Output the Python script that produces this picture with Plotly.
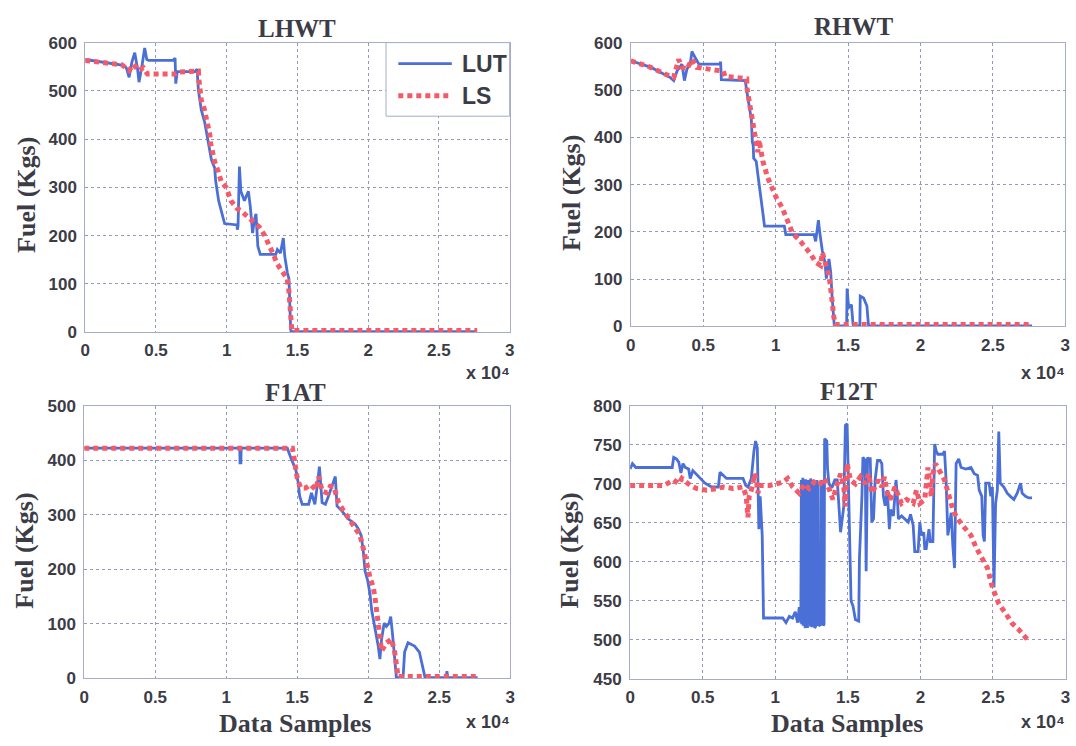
import plotly.graph_objects as go

W, H = 1076, 746

# ---------------- data: (sample index, fuel in kg) ----------------
lhwt_lut = [(0, 565), (1500, 558), (2700, 553), (2900, 548), (3100, 528), (3300, 560), (3500, 579),
            (3700, 545), (3800, 518), (4000, 550), (4200, 589), (4350, 565), (4500, 563), (6200, 563),
            (6350, 568), (6400, 515), (6500, 540), (7750, 540), (7900, 545), (8000, 501), (8200, 461),
            (8450, 434), (8680, 394), (8920, 357), (9150, 340), (9220, 313), (9430, 272), (9620, 252),
            (9850, 225), (10730, 222), (10750, 212), (10800, 220), (10900, 343), (11000, 292),
            (11250, 272), (11530, 292), (11670, 259), (11830, 205), (11950, 232), (12070, 245),
            (12200, 178), (12370, 161), (13470, 161), (13580, 171), (13800, 164), (14000, 195),
            (14100, 158), (14280, 124), (14400, 110), (14520, 6), (14550, 1), (27700, 1)]
lhwt_ls = [(0, 563), (1450, 559), (2600, 554), (3100, 542), (3400, 555), (3800, 542), (4100, 548),
           (4400, 535), (6350, 535), (6600, 539), (7300, 539), (8000, 541), (8030, 525), (8100, 505),
           (8200, 481), (8400, 464), (8570, 444), (8800, 410), (8870, 390), (8970, 377), (9150, 353),
           (9400, 333), (9600, 313), (9970, 299), (10300, 272), (10730, 256), (11000, 252),
           (11250, 245), (11600, 235), (11950, 225), (12300, 218), (12650, 202), (12900, 188),
           (13230, 165), (13580, 141), (13940, 124), (14280, 110), (14400, 84), (14470, 50),
           (14520, 10), (14600, 3), (27700, 3)]

rhwt_lut = [(0, 562), (1400, 548), (2700, 527), (2960, 520), (3200, 541), (3530, 555), (3700, 520),
            (3870, 544), (4100, 555), (4220, 582), (4380, 572), (4700, 555), (6150, 555), (6200, 560),
            (6250, 522), (7900, 520), (8000, 499), (8160, 472), (8320, 438), (8390, 390), (8450, 383),
            (8480, 356), (8660, 349), (8770, 321), (8900, 294), (9000, 266), (9120, 239), (9230, 212),
            (10600, 212), (10700, 194), (12650, 194), (12760, 180), (12950, 225), (13050, 197),
            (13220, 160), (13400, 136), (13500, 101), (13680, 143), (13800, 115), (13900, 60),
            (14020, 5), (14050, 1), (14900, 1), (14930, 80), (15040, 39), (15230, 46), (15340, 5),
            (15370, 1), (15810, 1), (15840, 64), (16070, 60), (16300, 43), (16400, 5), (16430, 1),
            (27700, 1)]
rhwt_ls = [(0, 562), (1370, 548), (2730, 529), (2960, 527), (3300, 565), (3530, 548), (3870, 544),
           (4220, 565), (4560, 548), (5470, 544), (6380, 540), (6500, 529), (7300, 527), (8000, 524),
           (8020, 504), (8160, 479), (8320, 462), (8480, 434), (8620, 400), (8700, 393), (8770, 369),
           (8850, 395), (8900, 385), (9120, 349), (9460, 314), (9800, 290), (10030, 273),
           (10440, 252), (10670, 235), (10900, 214), (11170, 197), (11630, 183), (12080, 167),
           (12420, 153), (12760, 136), (13100, 129), (13220, 156), (13450, 129), (13680, 108),
           (13800, 80), (13900, 46), (14020, 19), (14130, 4), (27700, 4)]

f1at_lut = [(0, 422), (10950, 422), (10970, 395), (11030, 395), (11050, 422), (14300, 422),
            (14540, 405), (14900, 382), (15070, 358), (15170, 334), (15350, 319), (15800, 319),
            (16000, 340), (16240, 319), (16400, 352), (16560, 388), (16750, 322), (16980, 319),
            (17200, 334), (17450, 352), (17680, 370), (17800, 316), (18140, 307), (18600, 292),
            (19070, 283), (19300, 274), (19500, 262), (19650, 233), (19770, 197), (19960, 179),
            (20120, 155), (20240, 125), (20470, 95), (20700, 59), (20820, 35), (20940, 72),
            (21120, 101), (21280, 95), (21470, 101), (21580, 113), (21700, 83), (21860, 35),
            (21980, 1), (22450, 1), (22560, 48), (22800, 65), (23260, 59), (23600, 48), (23840, 18),
            (24000, 1), (25480, 1), (25540, 13), (25600, 1), (27700, 1)]
f1at_ls = [(0, 422), (14660, 422), (14770, 405), (14900, 387), (15000, 367), (15240, 349),
           (15590, 349), (15940, 355), (16300, 346), (16520, 370), (16750, 343), (17100, 340),
           (17330, 352), (17560, 352), (17910, 322), (18260, 307), (18650, 292), (19070, 274),
           (19420, 262), (19650, 238), (19770, 220), (19960, 203), (20120, 185), (20350, 167),
           (20470, 149), (20580, 125), (20700, 95), (20820, 72), (20940, 50), (21280, 65),
           (21630, 72), (21860, 48), (21980, 18), (22100, 3), (27700, 3)]

f12t_lut = [(0, 719), (160, 726), (390, 721), (2900, 721), (3000, 734), (3190, 732), (3350, 728),
            (3500, 714), (3640, 726), (3800, 721), (4030, 719), (4140, 707), (4320, 717), (4710, 709),
            (5160, 701), (5620, 696), (6080, 696), (6190, 715), (6420, 711), (6640, 707), (7780, 707),
            (7960, 698), (8120, 696), (8350, 707), (8530, 742), (8640, 755), (8760, 746), (8800, 680),
            (8870, 642), (8960, 684), (9030, 651), (9100, 634), (9190, 528), (10510, 528),
            (10740, 522), (10970, 530), (11190, 528), (11380, 536), (11540, 522), (11650, 542),
            (11760, 522),
            # rapid switching block
            (11800, 705), (11820, 520), (11845, 700), (11870, 525), (11895, 708), (11920, 518),
            (11945, 702), (11970, 522), (11995, 706), (12020, 520), (12045, 700), (12070, 515),
            (12095, 706), (12120, 524), (12145, 700), (12170, 520), (12195, 705), (12220, 515),
            (12245, 702), (12270, 525), (12295, 700), (12320, 520), (12345, 705), (12370, 522),
            (12395, 703), (12420, 517), (12445, 707), (12470, 521), (12495, 701), (12520, 516),
            (12545, 704), (12570, 523), (12595, 700), (12620, 518), (12645, 705), (12670, 520),
            (12695, 702), (12720, 515), (12850, 520), (12880, 705), (12910, 520), (12960, 700),
            (12990, 518), (13150, 520), (13180, 705), (13210, 520), (13280, 702), (13310, 518),
            (13360, 520),
            (13400, 758), (13550, 755), (13600, 720), (13700, 700), (13900, 695), (14100, 705),
            (14270, 705), (14500, 638), (14720, 671), (14830, 775), (14950, 777), (15020, 705),
            (15130, 622), (15220, 550), (15360, 543), (15520, 526), (15750, 524), (15780, 550),
            (15800, 605), (15970, 684), (16040, 734), (16200, 730), (16260, 588), (16360, 734),
            (16500, 728), (16540, 734), (16650, 651), (16770, 655), (16880, 705), (17040, 730),
            (17220, 730), (17340, 726), (17450, 684), (17570, 672), (17720, 692), (17860, 642),
            (17950, 667), (18140, 659), (18320, 705), (18410, 684), (18480, 655), (18700, 659),
            (18930, 655), (19160, 651), (19320, 661), (19500, 647), (19610, 613), (19840, 613),
            (19960, 651), (20070, 634), (20230, 638), (20300, 617), (20400, 617), (20590, 642),
            (20680, 626), (20860, 626), (20980, 751), (21090, 742), (21200, 738), (21540, 738),
            (21660, 742), (21770, 705), (21890, 634), (22120, 663), (22230, 622), (22350, 592),
            (22460, 726), (22640, 732), (22800, 721), (23140, 719), (23480, 721), (23710, 713),
            (23940, 711), (24050, 692), (24230, 684), (24320, 634), (24410, 626), (24500, 701),
            (24730, 701), (24850, 684), (24960, 696), (25070, 567), (25180, 675), (25300, 692),
            (25400, 767), (25500, 701), (25750, 696), (25980, 688), (26200, 684), (26440, 680),
            (26670, 688), (26900, 701), (27010, 688), (27240, 684), (27470, 682), (27690, 682)]
f12t_ls = [(0, 698), (1370, 698), (2320, 698), (3000, 705), (3350, 700), (3570, 707), (4140, 698),
           (4600, 694), (5280, 692), (5960, 694), (6420, 696), (7100, 694), (7780, 696), (8000, 684),
           (8060, 667), (8120, 657), (8200, 684), (8350, 692), (8580, 713), (8700, 705), (8800, 688),
           (8920, 698), (9600, 698), (10510, 702), (10850, 707), (11200, 696), (11650, 688),
           (12000, 700), (12330, 694), (12670, 702), (13010, 698), (13360, 707), (13700, 694),
           (13970, 680), (14270, 700), (14500, 713), (14720, 696), (14830, 671), (14950, 726),
           (15180, 705), (15520, 700), (15860, 709), (16200, 700), (16430, 713), (16650, 688),
           (16880, 696), (17110, 705), (17340, 696), (17520, 709), (17700, 690), (17910, 680),
           (18250, 696), (18480, 684), (18700, 675), (19050, 680), (19500, 675), (19730, 692),
           (19960, 675), (20300, 680), (20400, 707), (20520, 721), (20750, 684), (20860, 713),
           (21040, 726), (21200, 719), (21430, 713), (21660, 705), (21890, 692), (22000, 684),
           (22120, 675), (22230, 667), (22570, 655), (23030, 644), (23480, 634), (23820, 619),
           (24280, 605), (24620, 592), (24960, 567), (25410, 546), (25870, 534), (26320, 521),
           (26780, 513), (27350, 501)]

titles = ["LHWT", "RHWT", "F1AT", "F12T"]
y_ranges = [(0, 600), (0, 600), (0, 500), (450, 800)]
y_steps = [100, 100, 100, 50]
x_tickvals = [0, 5000, 10000, 15000, 20000, 25000, 30000]
x_ticktext = ["0", "0.5", "1", "1.5", "2", "2.5", "3"]
x_scale_label = "x 10\u2074"
series_names = ["LUT", "LS"]

# ---------------- styling ----------------
BLUE = "#4a6fd6"
RED = "#f45a68"
TEXT = "#3c3c46"
GRID = "#9499b5"
FRAME = "#a6acc8"
SANS = "Liberation Sans, Arial, sans-serif"
SERIF = "Liberation Serif, Times New Roman, serif"
LUT_LINE = dict(color=BLUE, width=2.8)
LS_LINE = dict(color=RED, width=5, dash="5px,4px")


def fx(px):
    return px / W


def fy(py):
    return 1 - py / H


# plot-area boxes in pixels: left, right, top, bottom
boxes = [(81, 509.4, 34.5, 331.5),
         (631.7, 1070.3, 34.7, 325.7),
         (80, 510, 407, 686.7),
         (631, 1070.5, 407.3, 687.3)]
title_pos = [(295, 20), (857, 18), (293, 394), (851, 393)]
ylabel_pos = [(21, 191), (571, 189), (20, 556), (570, 556)]
xlabel_pos = [(293, 733), (850, 733)]
exp_pos = [(512, 373), (1072, 373), (512, 732), (1072, 732)]

fig = go.Figure()
panels = [(lhwt_lut, lhwt_ls), (rhwt_lut, rhwt_ls), (f1at_lut, f1at_ls), (f12t_lut, f12t_ls)]

layout = dict(
    width=W, height=H, margin=dict(l=0, r=0, t=0, b=0),
    paper_bgcolor="white", plot_bgcolor="white", showlegend=False,
)
annotations = []
shapes = []

for i, (lut, ls) in enumerate(panels):
    k = "" if i == 0 else str(i + 1)
    xa, ya = "x" + k, "y" + k
    l, r, t, b = boxes[i]
    fig.add_trace(go.Scatter(
        x=[p[0] for p in lut], y=[p[1] for p in lut], mode="lines", name=series_names[0],
        line=LUT_LINE, xaxis=xa, yaxis=ya))
    fig.add_trace(go.Scatter(
        x=[p[0] for p in ls], y=[p[1] for p in ls], mode="lines", name=series_names[1],
        line=LS_LINE, xaxis=xa, yaxis=ya))

    common = dict(showgrid=True, gridcolor=GRID, gridwidth=1, griddash="3px,3px",
                  showline=True, mirror=True, linecolor=FRAME, linewidth=1,
                  zeroline=False, ticks="",
                  tickfont=dict(family=SANS, size=17, color=TEXT, weight="bold"))
    layout["xaxis" + k] = dict(common, domain=[fx(l), fx(r)], anchor=ya, range=[0, 30000],
                               tickvals=x_tickvals, ticktext=x_ticktext, ticklabelstandoff=3)
    lo, hi = y_ranges[i]
    layout["yaxis" + k] = dict(common, domain=[fy(b), fy(t)], anchor=xa, range=[lo, hi],
                               tick0=lo, dtick=y_steps[i], ticklabelstandoff=4)

    tx, ty = title_pos[i]
    annotations.append(dict(text=titles[i], x=fx(tx), y=fy(ty), xref="paper", yref="paper",
                            showarrow=False, xanchor="center", yanchor="middle",
                            font=dict(family=SERIF, size=25, color=TEXT, weight="bold")))
    lx, lyp = ylabel_pos[i]
    annotations.append(dict(text="Fuel (Kgs)", x=fx(lx), y=fy(lyp), xref="paper", yref="paper",
                            showarrow=False, textangle=-90, xanchor="center", yanchor="middle",
                            font=dict(family=SERIF, size=26, color=TEXT, weight="bold")))
    ex, ey = exp_pos[i]
    annotations.append(dict(text=x_scale_label, x=fx(ex), y=fy(ey), xref="paper", yref="paper",
                            showarrow=False, xanchor="right", yanchor="middle",
                            font=dict(family=SANS, size=18, color=TEXT, weight="bold")))

for (dx, dy) in xlabel_pos:
    annotations.append(dict(text="Data Samples", x=fx(dx), y=fy(dy), xref="paper", yref="paper",
                            showarrow=False, xanchor="center", yanchor="middle",
                            font=dict(family=SERIF, size=26, color=TEXT, weight="bold")))

# legend box in the first panel
lg_l, lg_r, lg_t, lg_b = 384.6, 509.4, 34.5, 110
shapes.append(dict(type="rect", xref="paper", yref="paper", x0=fx(lg_l), x1=fx(lg_r),
                   y0=fy(lg_b), y1=fy(lg_t), line=dict(color=FRAME, width=1),
                   fillcolor="white", layer="above"))
legend_rows = [(series_names[0], 56, LUT_LINE), (series_names[1], 89, LS_LINE)]
for name, yy, ln in legend_rows:
    shapes.append(dict(type="line", xref="paper", yref="paper", x0=fx(397), x1=fx(451),
                       y0=fy(yy), y1=fy(yy), line=ln, layer="above"))
    annotations.append(dict(text=name, x=fx(459), y=fy(yy), xref="paper", yref="paper",
                            showarrow=False, xanchor="left", yanchor="middle",
                            font=dict(family=SANS, size=23, color=TEXT, weight="bold")))

layout["annotations"] = annotations
layout["shapes"] = shapes
fig.update_layout(**layout)
fig.write_html("out.html")
